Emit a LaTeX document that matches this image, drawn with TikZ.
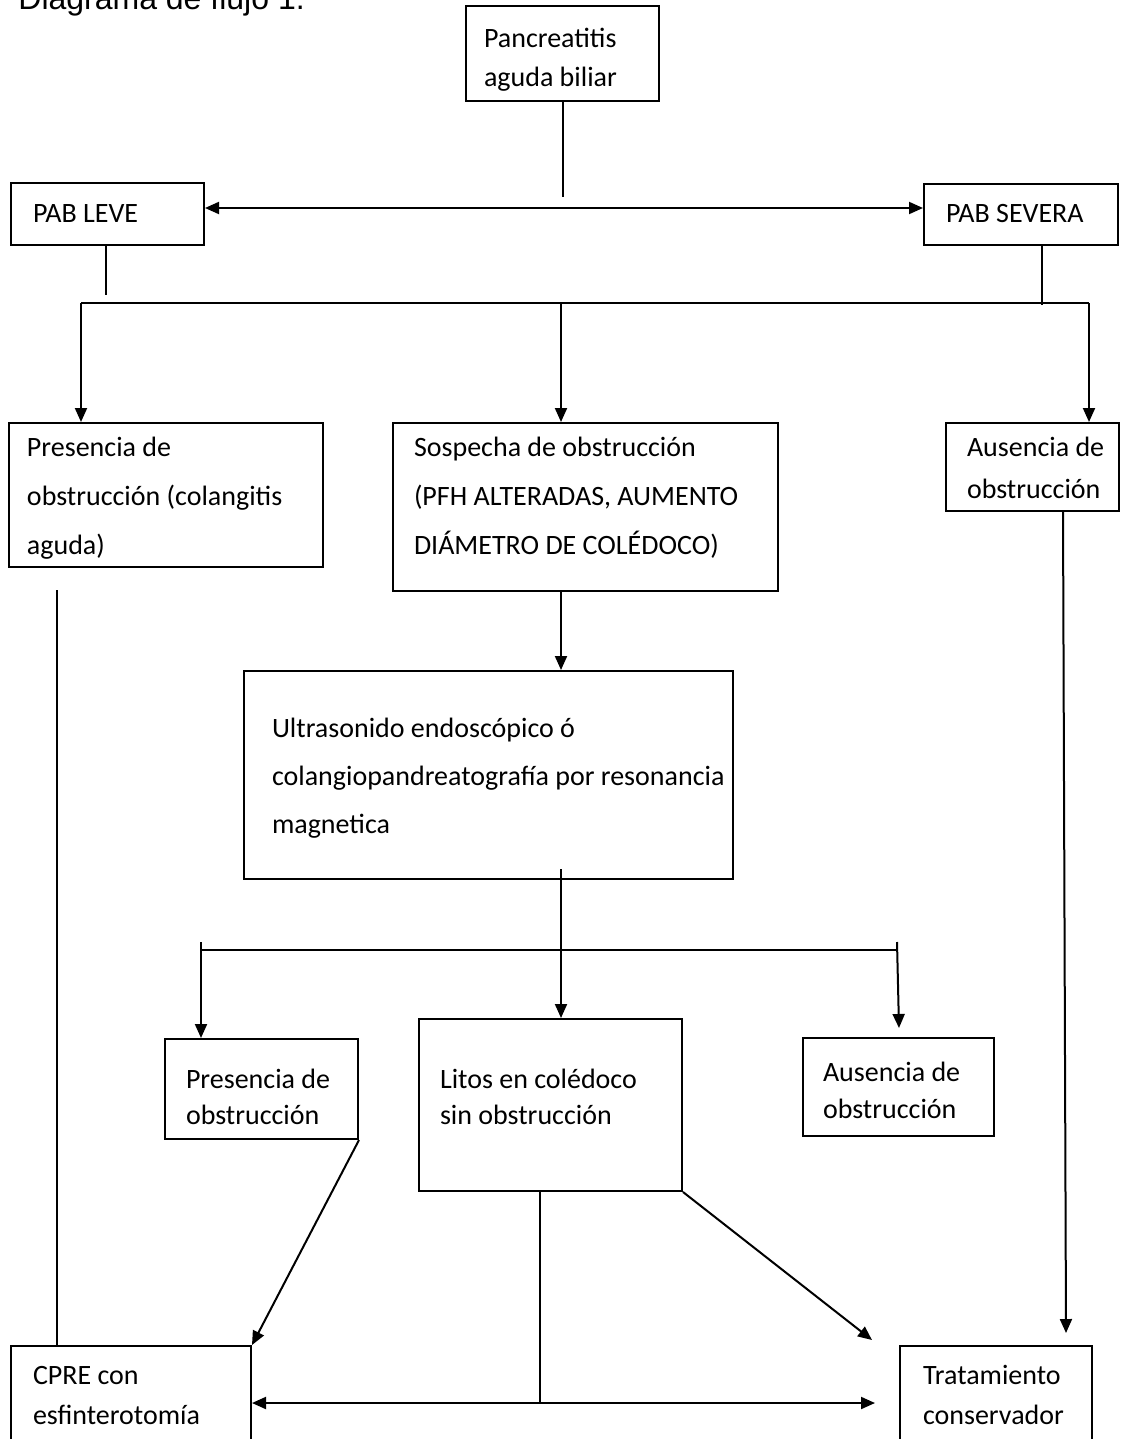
\documentclass[tikz,border=0pt]{standalone}
\usepackage{fontspec}
\usetikzlibrary{arrows.meta, calc}
\newfontfamily\cajafont{Carlito}
\newfontfamily\titulofont{Liberation Sans}
\newlength{\px}\setlength{\px}{0.5pt}
% ancho, alto, sangria, primera linea, interlineado, texto
\newcommand{\caja}[6]{\parbox[t][#2\px][t]{#1\px}{\cajafont\fontsize{14pt}{#5\px}\selectfont
    \leftskip=#3\px \rightskip=0pt plus 1fil \parindent=0pt
    \vspace*{\dimexpr #4\px-0.7\baselineskip\relax}\strut #6}}
\tikzset{
  caja/.style={draw, line width=1pt, anchor=north west, inner sep=0pt},
  linea/.style={line width=1pt},
  flecha/.style={line width=1pt, -{Triangle[length=7pt,width=6pt]}},
  doble/.style={line width=1pt, {Triangle[length=7pt,width=6pt]}-{Triangle[length=7pt,width=6pt]}}
}

\begin{document}
\begin{tikzpicture}[x=0.5pt, y=-0.5pt]
  % --- 0. marco ---
  \clip (0,0) rectangle (1131,1439);

  % --- 1. titulo ---
  \node[anchor=base west, inner sep=0pt, font=\titulofont\fontsize{16pt}{19pt}\selectfont] (titulo) at (18,10) {Diagrama de flujo 1.};

  % --- 2. cajas ---
  \node[caja] (pab) at (465,5) {\caja{193}{95}{18}{42}{39}{Pancreatitis\\aguda biliar}};
  \node[caja] (leve) at (10,182) {\caja{193}{62}{22}{40}{39}{PAB LEVE}};
  \node[caja] (severa) at (923,183) {\caja{194}{61}{22}{39}{39}{PAB SEVERA}};
  \node[caja] (presA) at (8,422) {\caja{314}{144}{18}{33}{49}{Presencia de\\obstrucción (colangitis\\aguda)}};
  \node[caja] (sosp) at (392,422) {\caja{385}{168}{21}{33}{49}{Sospecha de obstrucción\\(PFH ALTERADAS, AUMENTO\\DIÁMETRO DE COLÉDOCO)}};
  \node[caja] (ausA) at (945,422) {\caja{173}{88}{21}{33}{42}{Ausencia de\\obstrucción}};
  \node[caja] (ultra) at (243,670) {\caja{489}{208}{28}{66}{48}{Ultrasonido endoscópico ó\\colangiopandreatografía~por~resonancia\\magnetica}};
  \node[caja] (presB) at (164,1038) {\caja{193}{100}{21}{49}{36}{Presencia de\\obstrucción}};
  \node[caja] (litos) at (418,1018) {\caja{263}{172}{21}{69}{36}{Litos en colédoco\\sin obstrucción}};
  \node[caja] (ausB) at (802,1037) {\caja{191}{98}{20}{43}{37}{Ausencia de\\obstrucción}};
  \node[caja] (cpre) at (10,1345) {\caja{240}{130}{22}{38}{40}{CPRE con\\esfinterotomía}};
  \node[caja] (trat) at (899,1345) {\caja{192}{130}{23}{38}{40}{Tratamiento\\conservador}};

  % --- 3. PAB leve / severa ---
  \coordinate (p1) at (561,197);
  \draw[linea] (pab.south) -- (pab.south |- p1);
  \coordinate (h1) at (561,208);
  \draw[doble] (leve.east |- h1) -- (severa.west |- h1);
  \coordinate (l1) at (106,295);
  \draw[linea] (leve.south -| l1) -- (l1);
  \coordinate (s1) at (1042,305);
  \draw[linea] (severa.south -| s1) -- (s1);

  % --- 4. ramas superiores ---
  \coordinate (r1) at (81,303);
  \coordinate (r2) at (561,303);
  \coordinate (r3) at (1089,303);
  \draw[linea] (r1) -- (r3);
  \draw[flecha] (r1) -- (r1 |- presA.north);
  \draw[flecha] (r2) -- (r2 |- sosp.north);
  \draw[flecha] (r3) -- (r3 |- ausA.north);
  \coordinate (iz) at (57,590);
  \draw[linea] (iz) -- (iz |- cpre.north);
  \draw[flecha] (r2 |- sosp.south) -- (r2 |- ultra.north);
  \coordinate (d1) at (1063,600);
  \coordinate (a4) at (1066,1333);
  \draw[flecha] (ausA.south -| d1) -- (a4);

  % --- 5. ramas inferiores ---
  \coordinate (u1) at (561,869);
  \draw[flecha] (u1) -- (u1 |- litos.north);
  \coordinate (t1) at (201,942);
  \coordinate (t2) at (201,950);
  \coordinate (t3) at (897,950);
  \coordinate (t4) at (897,942);
  \draw[linea] (t2) -- (t3);
  \draw[flecha] (t1) -- (t1 |- presB.north);
  \coordinate (a1) at (899,1028);
  \draw[flecha] (t4) -- (a1);

  % --- 6. hacia CPRE / tratamiento ---
  \draw[flecha] (presB.south east) -- (cpre.north east);
  \coordinate (a2) at (872,1340);
  \draw[flecha] (litos.south east) -- (a2);
  \coordinate (b1) at (540,1403);
  \draw[linea] (litos.south -| b1) -- (b1);
  \coordinate (a3) at (875,1403);
  \draw[doble] (cpre.east |- b1) -- (a3);
\end{tikzpicture}
\end{document}
